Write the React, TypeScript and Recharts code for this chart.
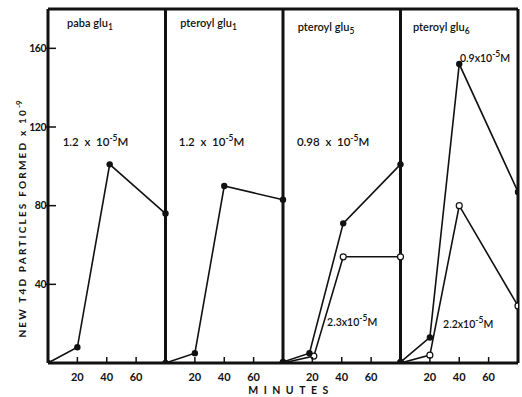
import React from "react";
import { LineChart, Line, XAxis, YAxis, ReferenceLine, ReferenceDot } from "recharts";

// ---- data ----
const panelSpan = 80; // minutes per panel
const panelNames = ["paba glu", "pteroyl glu", "pteroyl glu", "pteroyl glu"];
const panelSubs = ["1", "1", "5", "6"];
const minuteTicks = [20, 40, 60];
const yTicks = [40, 80, 120, 160];

const minutesPaba1 = [0, 20, 42, 80];
const pabaGlu1 = [0, 8, 101, 76];

const minutesPteroyl1 = [0, 20, 40, 80];
const pteroylGlu1 = [0, 5, 90, 83];

const minutesPteroyl5Filled = [0, 18, 41, 80];
const pteroylGlu5Filled = [0.5, 5, 71, 101];
const minutesPteroyl5Open = [0, 21, 41, 80];
const pteroylGlu5Open = [0, 3.5, 54, 54];

const minutesPteroyl6 = [0, 20, 40, 80];
const pteroylGlu6Filled = [0.5, 13, 152, 87];
const pteroylGlu6Open = [0, 4, 80, 29];

const concMantissas = ["1.2", "1.2", "0.98", "0.9", "2.3", "2.2"];
const concCompact = [false, false, false, true, true, true];

// ---- layout (annotation anchors in data units) ----
const titleAnchors = [
  { x: 13, y: 171 },
  { x: 90, y: 171 },
  { x: 170, y: 169 },
  { x: 248.5, y: 169 },
];
const concAnchors = [
  { x: 10, y: 110.5 },
  { x: 89, y: 110.5 },
  { x: 169.5, y: 110.5 },
  { x: 280.5, y: 153 },
  { x: 190, y: 19 },
  { x: 269, y: 18 },
];

const toSeries = (panel: number, minutes: number[], values: number[]) =>
  minutes.map((m, i) => ({ x: panel * panelSpan + m, y: values[i] }));

const series = [
  { data: toSeries(0, minutesPaba1, pabaGlu1), open: false },
  { data: toSeries(1, minutesPteroyl1, pteroylGlu1), open: false },
  { data: toSeries(2, minutesPteroyl5Open, pteroylGlu5Open), open: true },
  { data: toSeries(2, minutesPteroyl5Filled, pteroylGlu5Filled), open: false },
  { data: toSeries(3, minutesPteroyl6, pteroylGlu6Open), open: true },
  { data: toSeries(3, minutesPteroyl6, pteroylGlu6Filled), open: false },
];

const xTicks = [0, 1, 2, 3].flatMap((p) => minuteTicks.map((t) => p * panelSpan + t));

const FONT = "Lato, 'Open Sans', sans-serif";
const INK = "#111";

const XTick = (props: any) => {
  const { x, y, payload } = props;
  return (
    <g>
      <line x1={x} x2={x} y1={y - 6} y2={y} stroke={INK} strokeWidth={1.5} />
      <text x={x} y={y + 18} textAnchor="middle" fontSize={11} fontWeight={700} fontFamily={FONT} fill={INK}>
        {payload.value % panelSpan}
      </text>
    </g>
  );
};

const YTick = (props: any) => {
  const { x, y, payload } = props;
  return (
    <g>
      <line x1={x - 3} x2={x + 8} y1={y} y2={y} stroke={INK} strokeWidth={1.5} />
      <text x={x - 2} y={y} dy="0.35em" textAnchor="end" fontSize={10.5} fontWeight={700} fontFamily={FONT} fill={INK} letterSpacing={-0.5}>
        {payload.value}
      </text>
    </g>
  );
};

const YLabel = (props: any) => {
  const vb = props.viewBox || { x: 0, y: 9, width: 48, height: 354 };
  const cx = vb.x + 22;
  const cy = vb.y + vb.height / 2 + 33;
  return (
    <text
      transform={`rotate(-90 ${cx} ${cy})`}
      x={cx}
      y={cy}
      dy="0.35em"
      textAnchor="middle"
      fontSize={10}
      fontWeight={700}
      fontFamily={FONT}
      fill={INK}
      letterSpacing={2.2}
    >
      NEW T4D PARTICLES FORMED x 10
      <tspan dy={-4} fontSize={8} letterSpacing={0}>-9</tspan>
    </text>
  );
};

const XLabel = (props: any) => {
  const vb = props.viewBox || { x: 48, y: 363, width: 470, height: 20 };
  return (
    <text
      x={vb.x + vb.width / 2 + 8}
      y={vb.y + 31}
      textAnchor="middle"
      fontSize={10.5}
      fontWeight={700}
      fontFamily={FONT}
      fill={INK}
      letterSpacing={5.5}
    >
      MINUTES
    </text>
  );
};

const makeTitle = (i: number) => (p: any) => {
  const vb = p.viewBox || { x: 0, y: 0 };
  return (
    <text x={vb.x} y={vb.y} fontSize={11} fontWeight={600} fontFamily={FONT} fill={INK}>
      {panelNames[i]}
      <tspan dy={3} fontSize={8.5}>{panelSubs[i]}</tspan>
    </text>
  );
};

const makeConc = (i: number) => (p: any) => {
  const vb = p.viewBox || { x: 0, y: 0 };
  const compact = concCompact[i];
  return (
    <text x={vb.x} y={vb.y} fontSize={compact ? 10.5 : 11.5} fontWeight={600} fontFamily={FONT} fill={INK} style={{ whiteSpace: "pre" }}>
      {compact ? `${concMantissas[i]}x10` : `${concMantissas[i]}  x  10`}
      <tspan dy={-5} fontSize={8.5}>-5</tspan>
      <tspan dy={5}>M</tspan>
    </text>
  );
};

const FilledDot = (props: any) => {
  const { cx, cy } = props;
  if (cx == null || cy == null) return null;
  return <circle cx={cx} cy={cy} r={3.2} fill={INK} stroke="none" />;
};
const OpenDot = (props: any) => {
  const { cx, cy } = props;
  if (cx == null || cy == null) return null;
  return <circle cx={cx} cy={cy} r={3} fill="#fff" stroke={INK} strokeWidth={1.2} />;
};

export default function App() {
  return (
    <div style={{ background: "#fff", width: 522, height: 397, overflow: "hidden" }}>
      <style>{`html,body{margin:0;padding:0;overflow:hidden;background:#fff}`}</style>
      <LineChart width={522} height={397} margin={{ top: 9, right: 4, bottom: 14, left: 0 }}>
        <XAxis
          type="number"
          dataKey="x"
          domain={[0, 320]}
          ticks={xTicks}
          tick={<XTick />}
          tickSize={0}
          tickMargin={0}
          tickLine={false}
          axisLine={{ stroke: INK, strokeWidth: 3 }}
          height={20}
          allowDataOverflow
          label={{ content: XLabel }}
        />
        <YAxis
          type="number"
          dataKey="y"
          domain={[0, 180]}
          ticks={yTicks}
          tick={<YTick />}
          tickSize={0}
          tickMargin={0}
          tickLine={false}
          axisLine={{ stroke: INK, strokeWidth: 3 }}
          width={48}
          allowDataOverflow
          label={{ content: YLabel }}
        />
        <ReferenceLine y={180} stroke={INK} strokeWidth={3} />
        <ReferenceLine x={80} stroke={INK} strokeWidth={3} />
        <ReferenceLine x={160} stroke={INK} strokeWidth={3} />
        <ReferenceLine x={240} stroke={INK} strokeWidth={3} />
        <ReferenceLine x={320} stroke={INK} strokeWidth={3} />
        {series.map((s, i) => (
          <Line
            key={i}
            data={s.data}
            dataKey="y"
            type="linear"
            stroke={INK}
            strokeWidth={1.6}
            dot={s.open ? <OpenDot /> : <FilledDot />}
            activeDot={false}
            isAnimationActive={false}
          />
        ))}
        {titleAnchors.map((a, i) => (
          <ReferenceDot key={"t" + i} x={a.x} y={a.y} r={0} fill="none" stroke="none" label={{ content: makeTitle(i) }} />
        ))}
        {concAnchors.map((a, i) => (
          <ReferenceDot key={"c" + i} x={a.x} y={a.y} r={0} fill="none" stroke="none" label={{ content: makeConc(i) }} />
        ))}
      </LineChart>
    </div>
  );
}
